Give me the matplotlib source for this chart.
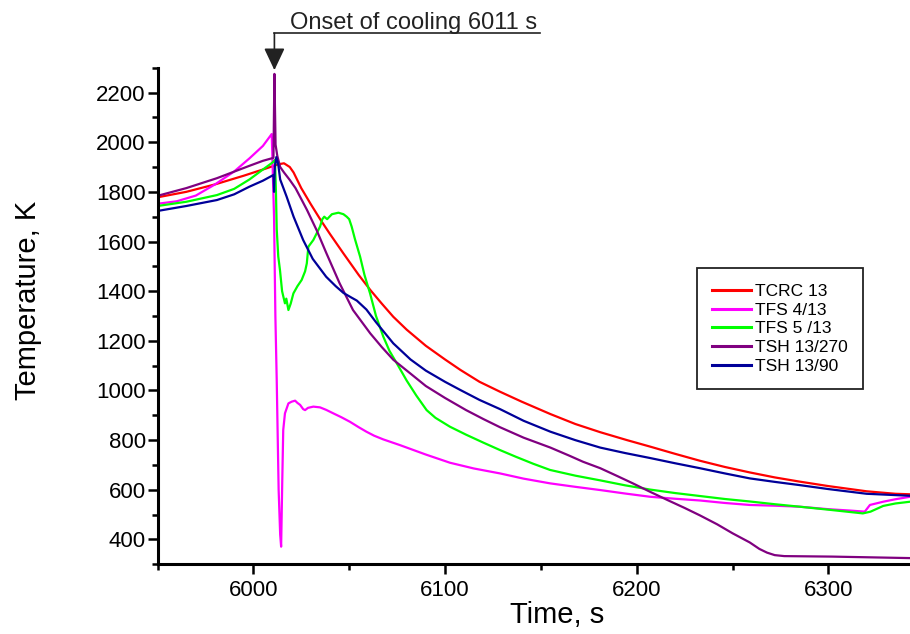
import matplotlib
matplotlib.use("Agg")
import matplotlib.pyplot as plt
from matplotlib.ticker import MultipleLocator
from matplotlib.lines import Line2D

plt.rcParams['font.family'] = ['Liberation Sans', 'DejaVu Sans']

# ---------------- data ----------------
tcrc_t = [5950, 5965, 5980, 5995, 6005, 6010, 6013, 6016, 6019, 6021, 6025, 6030, 6035,
          6040, 6047, 6055, 6061, 6067, 6073, 6080, 6090, 6100, 6108, 6118, 6128.7,
          6140, 6155, 6168, 6181, 6195, 6207, 6220, 6233, 6246, 6259, 6272, 6285,
          6300, 6320, 6335, 6342.6]
tcrc_T = [1778, 1800, 1830, 1865, 1890, 1903, 1911, 1915, 1900, 1878, 1815, 1750, 1688,
          1630, 1552, 1465, 1405, 1350, 1297, 1245, 1180, 1125, 1083, 1035, 995,
          955, 905, 865, 832, 800, 774, 745, 717, 692, 670, 650, 633,
          615, 594, 584, 582]

tfs4_t = [5950, 5960, 5970, 5980, 5990, 5998, 6005, 6009.6, 6010.8, 6011.5, 6012.2, 6013.2,
          6014, 6014.5, 6015.1, 6015.6, 6016.5, 6018.3, 6020, 6021.8, 6023, 6024.4, 6026,
          6027, 6028.5, 6031.3, 6034.8, 6038, 6041.7, 6046, 6050.4, 6055, 6059, 6063,
          6067.8, 6076.5, 6090, 6102.6, 6115, 6128.7, 6141, 6154.8, 6168, 6181, 6194,
          6207, 6220, 6233, 6246, 6259, 6272, 6285, 6300, 6312, 6319, 6321.7, 6328.6,
          6335, 6342.6]
tfs4_T = [1752, 1762, 1785, 1830, 1882, 1935, 1985, 2033, 1700, 1300, 1042, 600,
          420, 371, 640, 841, 908, 948, 955, 959, 950, 942, 925,
          921, 930, 935, 932, 922, 908, 892, 874, 852, 834, 818,
          803, 780, 742, 709, 686, 666, 645, 626, 612, 599, 585,
          572, 564, 557, 547, 539, 536, 532, 522, 516, 512, 539, 552,
          562, 572]

tfs5_t = [5950, 5965, 5981, 5990, 5998, 6005, 6010, 6011.3, 6011.8, 6012.2, 6013, 6013.9,
          6015, 6015.6, 6016.5, 6017.2, 6018.3, 6019.5, 6020.9, 6023, 6025.2, 6027,
          6027.9, 6028.7, 6031.3, 6034.8, 6036, 6037, 6038.5, 6041, 6044.4, 6047,
          6048.7, 6050, 6051.3, 6053, 6055.7, 6058, 6060.9, 6064, 6067.8, 6071, 6074.8,
          6080, 6085, 6090.4, 6095, 6102.6, 6111, 6120, 6128.7, 6137, 6146, 6154.8,
          6168, 6181, 6194, 6207, 6220, 6233, 6246, 6259, 6272, 6285, 6300, 6312,
          6318, 6322, 6328.6, 6335, 6342.6]
tfs5_T = [1743, 1760, 1787, 1812, 1850, 1890, 1918, 1929, 1800, 1650, 1540, 1485,
          1400, 1380, 1351, 1370, 1324, 1350, 1391, 1420, 1445, 1480,
          1512, 1579, 1606, 1660, 1690, 1700, 1690, 1710, 1716, 1710,
          1700, 1690, 1660, 1610, 1539, 1465, 1391, 1300, 1217, 1160, 1110,
          1040, 980, 921, 890, 854, 822, 790, 760, 733, 705, 680,
          657, 638, 618, 601, 587, 575, 563, 553, 542, 532, 520, 510,
          505, 512, 535, 545, 552]

tsh270_t = [5950, 5965, 5981, 5998, 6005, 6010.5, 6011, 6011.6, 6012.5, 6014, 6016, 6019,
            6022, 6024.4, 6028, 6033, 6038, 6045, 6052, 6061, 6067, 6073, 6082, 6090,
            6100, 6111, 6120, 6128.7, 6141, 6155, 6165, 6172, 6181, 6190, 6198, 6207,
            6216, 6225, 6233, 6242, 6250, 6259, 6264, 6268, 6272, 6277, 6302, 6342.6]
tsh270_T = [1784, 1815, 1855, 1905, 1925, 1937, 2275, 1990, 1945, 1900, 1878, 1848,
            1815, 1780, 1727, 1646, 1555, 1432, 1324, 1230, 1175, 1124, 1068, 1018,
            970, 921, 885, 852, 810, 770, 737, 713, 687, 655, 626, 592,
            559, 527, 497, 461, 425, 388, 362, 347, 337, 333, 331, 325]

tsh90_t = [5950, 5965, 5981, 5990, 5998, 6005, 6010.5, 6010.8, 6011.2, 6012, 6013, 6014,
           6017.4, 6021, 6026, 6031, 6038, 6043, 6047, 6051, 6054, 6059, 6064, 6073,
           6082, 6090, 6100, 6108, 6118, 6128.7, 6141, 6155, 6168, 6181, 6194, 6207,
           6220, 6233, 6246, 6259, 6272, 6285, 6300, 6320, 6342.6]
tsh90_T = [1723, 1743, 1767, 1790, 1821, 1845, 1868, 1800, 1900, 1940, 1910, 1850,
           1780, 1700, 1606, 1530, 1458, 1420, 1393, 1375, 1362, 1326, 1275, 1190,
           1125, 1080, 1035, 1002, 962, 925, 878, 834, 800, 770, 748, 728,
           707, 687, 666, 646, 632, 619, 603, 584, 576]

series = [
    ("TCRC 13", tcrc_t, tcrc_T, "#ff0000"),
    ("TFS 4/13", tfs4_t, tfs4_T, "#ff00ff"),
    ("TFS 5 /13", tfs5_t, tfs5_T, "#00ff00"),
    ("TSH 13/270", tsh270_t, tsh270_T, "#800080"),
    ("TSH 13/90", tsh90_t, tsh90_T, "#000099"),
]

onset_time = 6011
onset_label = "Onset of cooling 6011 s"

# ---------------- figure ----------------
W, H = 910, 634
fig = plt.figure(figsize=(W / 100, H / 100), dpi=100)
ax = fig.add_axes([157.5 / W, 69.7 / H, (W - 157.5) / W, (564.3 - 67.7) / H])

for name, t, T, c in series:
    ax.plot(t, T, color=c, lw=1.6, label=name, solid_joinstyle='round')

ax.set_xlim(5950, 6342.6)
ax.set_ylim(300, 2300)

ax.xaxis.set_major_locator(MultipleLocator(100))
ax.xaxis.set_minor_locator(MultipleLocator(50))
ax.yaxis.set_major_locator(MultipleLocator(200))
ax.yaxis.set_minor_locator(MultipleLocator(100))

for s in ['top', 'right']:
    ax.spines[s].set_visible(False)
for s in ['left', 'bottom']:
    ax.spines[s].set_linewidth(2.2)

ax.tick_params(which='major', direction='out', length=7, width=1.8, labelsize=16,
               colors='black', pad=1.5)
ax.tick_params(which='minor', direction='out', length=4, width=1.8)
ax.tick_params(axis='x', which='major', pad=4)

ax.set_xlabel("Time, s", fontsize=21)
ax.set_ylabel("Temperature, K", fontsize=21)
ax.xaxis.set_label_coords((557 - 157.5) / (W - 157.5), -(615 - 564.3) / (564.3 - 67.7))
ax.xaxis.label.set_va('center')
ax.yaxis.set_label_coords(-(157.5 - 28) / (W - 157.5), (564.3 - 300) / (564.3 - 67.7))
ax.yaxis.label.set_va('center')

leg = ax.legend(loc='upper left', bbox_to_anchor=(696.7 / W, (H - 268.3) / H),
                bbox_transform=fig.transFigure, borderaxespad=0, fontsize=12.5,
                handlelength=2.2, handletextpad=0.25, labelspacing=0.2,
                borderpad=0.9, fancybox=False, framealpha=1, edgecolor='#222222')
leg.get_frame().set_linewidth(1.3)
for l in leg.get_lines():
    l.set_linewidth(2.2)

# onset annotation
fig.text(290 / W, (H - 28.5) / H, onset_label, fontsize=17, va='baseline', ha='left',
         color='#222222')
fig.add_artist(Line2D([274.4 / W, 540 / W], [(H - 33.3) / H, (H - 33.3) / H],
                      color='#222222', lw=1.2))
ax.annotate("", xy=(onset_time, 2290), xycoords='data',
            xytext=(274.4, H - 33.3), textcoords='figure pixels',
            arrowprops=dict(arrowstyle='-|>,head_width=0.4,head_length=0.85',
                            mutation_scale=16, color='#222222', lw=1.2,
                            shrinkA=0, shrinkB=0),
            annotation_clip=False)

fig.savefig("out.png", dpi=100)
